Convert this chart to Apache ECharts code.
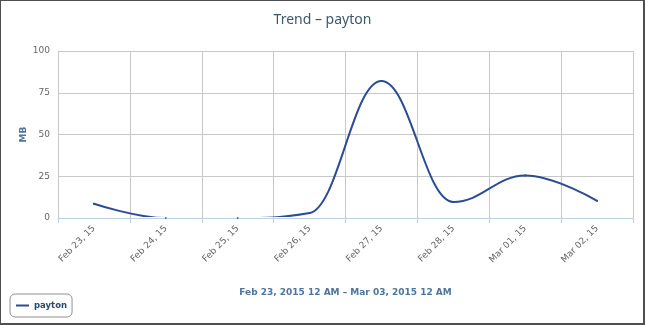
<!DOCTYPE html>
<html>
<head>
<meta charset="utf-8">
<title>Trend – payton</title>
<script src="https://cdn.jsdelivr.net/npm/echarts@6/dist/echarts.min.js"></script>
<style>
  html, body { margin: 0; padding: 0; background: #ffffff; }
  #chart { position: absolute; left: 0; top: 0; width: 645px; height: 325px; }
  #frame {
    position: absolute; left: 0; top: 0; width: 645px; height: 325px;
    box-sizing: border-box; border: 1px solid #4f4f4f;
    border-right-width: 2px; border-bottom-width: 2px; pointer-events: none;
  }
</style>
</head>
<body>
<div id="chart"></div>
<div id="frame"></div>
<script>
// Daily traffic for "payton", in MB
const categories = ['Feb 23, 15', 'Feb 24, 15', 'Feb 25, 15', 'Feb 26, 15',
                    'Feb 27, 15', 'Feb 28, 15', 'Mar 01, 15', 'Mar 02, 15'];
const paytonMB = [8.5, 0, 0, 3, 82, 9.6, 25.5, 10.3];
const yTicks = [0, 25, 50, 75, 100];

const FONT = '"DejaVu Sans", Verdana, sans-serif';
const LINE_COLOR = '#2b4c95';

// Spline control points for point k (pixel space), with the
// "no false extremes" clamp so the curve never overshoots its neighbours.
function splineControls(pts, k) {
  const [px, py] = pts[k];
  const last = pts[k - 1], next = pts[k + 1];
  if (!last || !next) return { left: [px, py], right: [px, py] };
  const s = 1.5, d = s + 1;
  const lcx = (s * px + last[0]) / d, rcx = (s * px + next[0]) / d;
  let lcy = (s * py + last[1]) / d, rcy = (s * py + next[1]) / d;
  const corr = ((rcy - lcy) * (rcx - px)) / (rcx - lcx) + py - rcy;
  lcy += corr; rcy += corr;
  if (lcy > last[1] && lcy > py) { lcy = Math.max(last[1], py); rcy = 2 * py - lcy; }
  else if (lcy < last[1] && lcy < py) { lcy = Math.min(last[1], py); rcy = 2 * py - lcy; }
  if (rcy > next[1] && rcy > py) { rcy = Math.max(next[1], py); lcy = 2 * py - rcy; }
  else if (rcy < next[1] && rcy < py) { rcy = Math.min(next[1], py); lcy = 2 * py - rcy; }
  return { left: [lcx, lcy], right: [rcx, rcy] };
}

function renderSegment(params, api) {
  const i = params.dataIndex;
  if (i >= paytonMB.length - 1) return { type: 'group', children: [] };
  const pts = paytonMB.map((v, k) => api.coord([k, v]));
  const a = splineControls(pts, i), b = splineControls(pts, i + 1);
  const cs = params.coordSys;
  return {
    type: 'group',
    clipPath: { type: 'rect', shape: { x: cs.x, y: cs.y - 2, width: cs.width, height: cs.height + 1 } },
    children: [{
      type: 'bezierCurve',
      shape: {
        x1: pts[i][0], y1: pts[i][1],
        cpx1: a.right[0], cpy1: a.right[1],
        cpx2: b.left[0], cpy2: b.left[1],
        x2: pts[i + 1][0], y2: pts[i + 1][1]
      },
      style: { stroke: LINE_COLOR, lineWidth: 2, fill: null, lineCap: 'round' }
    }]
  };
}

const chart = echarts.init(document.getElementById('chart'), null, { renderer: 'canvas' });

chart.setOption({
  animation: false,
  color: [LINE_COLOR],
  title: {
    text: 'Trend – payton',
    left: 'center',
    top: 8,
    textStyle: { fontFamily: '"Noto Sans", sans-serif', fontSize: 14, fontWeight: 'normal', color: '#3E576F' }
  },
  legend: {
    left: 10,
    top: 294,
    padding: [7, 5, 7, 6],
    borderColor: '#909090',
    borderWidth: 1,
    borderRadius: 5,
    icon: 'rect',
    itemWidth: 13,
    itemHeight: 2,
    itemGap: 5,
    textStyle: { fontFamily: FONT, fontSize: 8.5, fontWeight: 'bold', color: '#274b6d' },
    data: ['payton']
  },
  grid: { left: 58, right: 12, top: 51, bottom: 107 },
  xAxis: {
    type: 'category',
    data: categories,
    boundaryGap: true,
    name: 'Feb 23, 2015 12 AM – Mar 03, 2015 12 AM',
    nameLocation: 'middle',
    nameGap: 70,
    nameTextStyle: { fontFamily: FONT, fontSize: 9, fontWeight: 'bold', color: '#4d759e' },
    axisLine: { show: true, lineStyle: { color: '#C0D0E0', width: 1 } },
    axisTick: { show: true, length: 5, lineStyle: { color: '#C0D0E0' } },
    axisLabel: {
      rotate: 45, margin: 9, color: '#666666',
      fontFamily: FONT, fontSize: 9
    },
    splitLine: { show: true, showMinLine: true, showMaxLine: true, lineStyle: { color: '#C8C8C8', width: 1 } }
  },
  yAxis: {
    type: 'value',
    min: yTicks[0],
    max: yTicks[yTicks.length - 1],
    interval: yTicks[1] - yTicks[0],
    name: 'MB',
    nameLocation: 'middle',
    nameGap: 30,
    nameMoveOverlap: false,
    nameRotate: 90,
    nameTextStyle: { fontFamily: FONT, fontSize: 9, fontWeight: 'bold', color: '#4d759e' },
    axisLine: { show: false },
    axisTick: { show: false },
    axisLabel: { margin: 8, color: '#666666', fontFamily: FONT, fontSize: 9 },
    splitLine: { show: true, lineStyle: { color: '#C8C8C8', width: 1 } }
  },
  series: [{
    name: 'payton',
    type: 'custom',
    renderItem: renderSegment,
    data: paytonMB.map((v, i) => [i, v]),
    encode: { x: 0, y: 1 },
    itemStyle: { color: LINE_COLOR },
    clip: true,
    z: 2
  }, {
    // point markers (only visible where the curve hides on the axis)
    name: 'payton',
    type: 'scatter',
    data: paytonMB.map((v, i) => [i, v]),
    symbol: 'circle',
    symbolSize: 2,
    itemStyle: { color: LINE_COLOR },
    silent: true,
    z: 3
  }]
});
</script>
</body>
</html>
